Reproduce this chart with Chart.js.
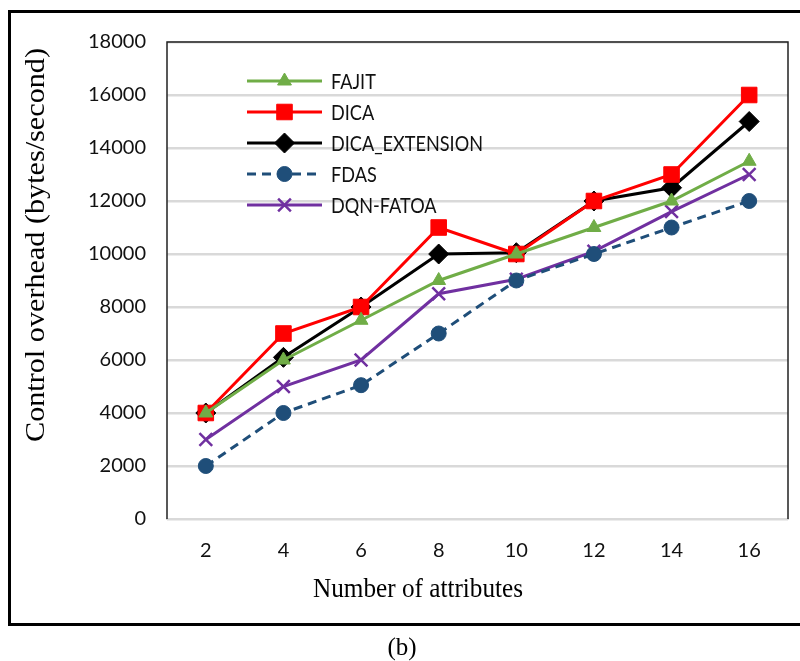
<!DOCTYPE html>
<html>
<head>
<meta charset="utf-8">
<script src="https://cdn.jsdelivr.net/npm/chart.js@4/dist/chart.umd.min.js"></script>
<style>
  html, body { margin: 0; padding: 0; background: #fff; }
  #wrap { width: 800px; height: 661px; position: relative; }
</style>
</head>
<body>
<div id="wrap"><canvas id="c" width="800" height="661"></canvas></div>
<script>
// Number of attributes on the x axis
const attributes = ['2', '4', '6', '8', '10', '12', '14', '16'];

// Control overhead (bytes/second) per method
const fajit         = [4000, 6000, 7500, 9000, 10000, 11000, 12000, 13500];
const dica          = [4000, 7000, 8000, 11000, 10000, 12000, 13000, 16000];
const dicaExtension = [4000, 6100, 8000, 10000, 10050, 12000, 12500, 15000];
const fdas          = [2000, 4000, 5050, 7000, 9000, 10000, 11000, 12000];
const dqnFatoa      = [3000, 5000, 6000, 8500, 9050, 10100, 11600, 13000];

const yTicks = [0, 2000, 4000, 6000, 8000, 10000, 12000, 14000, 16000, 18000];

const sans = 'Lato, "Open Sans", sans-serif';
const tickFont = { family: sans, size: 20 };
const serif = '"Liberation Serif", "Times New Roman", serif';

// Draw text squeezed horizontally so it spans the given width
function fitText(ctx, text, cx, cy, width) {
  const w = ctx.measureText(text).width;
  ctx.save();
  ctx.translate(cx, cy);
  ctx.scale(width / w, 1);
  ctx.fillText(text, 0, 0);
  ctx.restore();
}

// Frame, plot border, axis titles, caption and in-plot legend
const decorations = {
  id: 'decorations',
  beforeDatasetsDraw(chart) {
    const { ctx, chartArea: a } = chart;
    ctx.save();
    ctx.strokeStyle = '#222';
    ctx.lineWidth = 1.5;
    ctx.beginPath();
    ctx.moveTo(a.left, a.bottom);
    ctx.lineTo(a.left, a.top);
    ctx.lineTo(a.right, a.top);
    ctx.lineTo(a.right, a.bottom);
    ctx.stroke();
    ctx.restore();
  },
  afterDraw(chart) {
    const { ctx } = chart;
    ctx.save();
    // outer frame
    ctx.strokeStyle = '#000';
    ctx.lineWidth = 3;
    ctx.strokeRect(9.5, 11.5, 792, 613);

    // axis titles
    ctx.fillStyle = '#000';
    ctx.textAlign = 'center';
    ctx.textBaseline = 'middle';
    ctx.font = '27px ' + serif;
    fitText(ctx, 'Number of attributes', 418, 590, 210);
    ctx.save();
    ctx.translate(37, 245);
    ctx.rotate(-Math.PI / 2);
    ctx.font = '28px ' + serif;
    fitText(ctx, 'Control overhead (bytes/second)', 0, 0, 394);
    ctx.restore();

    // caption
    ctx.font = '25px ' + serif;
    ctx.fillText('(b)', 402, 648);

    // legend
    const x0 = 247, x1 = 322, tx = 331;
    const rows = [81, 112, 143, 174, 205];
    ctx.font = '22px ' + sans;
    const squeeze = 152 / ctx.measureText('DICA_EXTENSION').width;
    chart.data.datasets.forEach((ds, i) => {
      const y = rows[i];
      ctx.save();
      ctx.strokeStyle = ds.borderColor;
      ctx.lineWidth = ds.borderWidth;
      ctx.setLineDash(ds.borderDash || []);
      ctx.beginPath();
      ctx.moveTo(x0, y);
      ctx.lineTo(x1, y);
      ctx.stroke();
      ctx.setLineDash([]);
      ctx.strokeStyle = ds.pointBorderColor;
      ctx.fillStyle = ds.pointBackgroundColor;
      ctx.lineWidth = ds.pointBorderWidth || 1;
      Chart.helpers.drawPoint(ctx, {
        pointStyle: ds.pointStyle,
        radius: ds.pointRadius,
        borderWidth: ds.pointBorderWidth || 1
      }, (x0 + x1) / 2, y);
      ctx.restore();
      ctx.save();
      ctx.fillStyle = '#111';
      ctx.textAlign = 'left';
      ctx.textBaseline = 'middle';
      ctx.translate(tx, y + 1);
      ctx.scale(squeeze, 1);
      ctx.fillText(ds.label, 0, 0);
      ctx.restore();
    });
    ctx.restore();
  }
};

function series(label, data, color, style, radius, extra) {
  return Object.assign({
    label, data,
    borderColor: color,
    backgroundColor: color,
    pointBackgroundColor: color,
    pointBorderColor: color,
    pointStyle: style,
    pointRadius: radius,
    pointBorderWidth: 1,
    borderWidth: 3,
    tension: 0,
    fill: false
  }, extra || {});
}

new Chart(document.getElementById('c'), {
  type: 'line',
  data: {
    labels: attributes,
    datasets: [
      series('FAJIT', fajit, '#70AD47', 'triangle', 8),
      series('DICA', dica, '#FF0000', 'rect', 11),
      series('DICA_EXTENSION', dicaExtension, '#000000', 'rectRot', 10),
      series('FDAS', fdas, '#1F4E79', 'circle', 7.5, { borderDash: [9, 6] }),
      series('DQN-FATOA', dqnFatoa, '#7030A0', 'crossRot', 9, { pointBorderWidth: 2.5 })
    ]
  },
  options: {
    responsive: false,
    animation: false,
    layout: { padding: { left: 0, top: 42, right: 3, bottom: 0 } },
    plugins: {
      legend: { display: false },
      tooltip: { enabled: false }
    },
    scales: {
      x: {
        offset: true,
        grid: { display: false, drawTicks: false },
        border: { display: true, color: '#D9D9D9', width: 2 },
        ticks: { color: '#111', font: tickFont, padding: 20 },
        afterFit(scale) { scale.height = 142; }
      },
      y: {
        min: 0,
        max: 18000,
        afterBuildTicks(scale) { scale.ticks = yTicks.map(v => ({ value: v })); },
        grid: { color: '#D9D9D9', lineWidth: 2.5, drawTicks: false },
        border: { display: false },
        ticks: { color: '#111', font: tickFont, padding: 21, callback: v => String(v) },
        afterFit(scale) { scale.width = 167; }
      }
    }
  },
  plugins: [decorations]
});
</script>
</body>
</html>
